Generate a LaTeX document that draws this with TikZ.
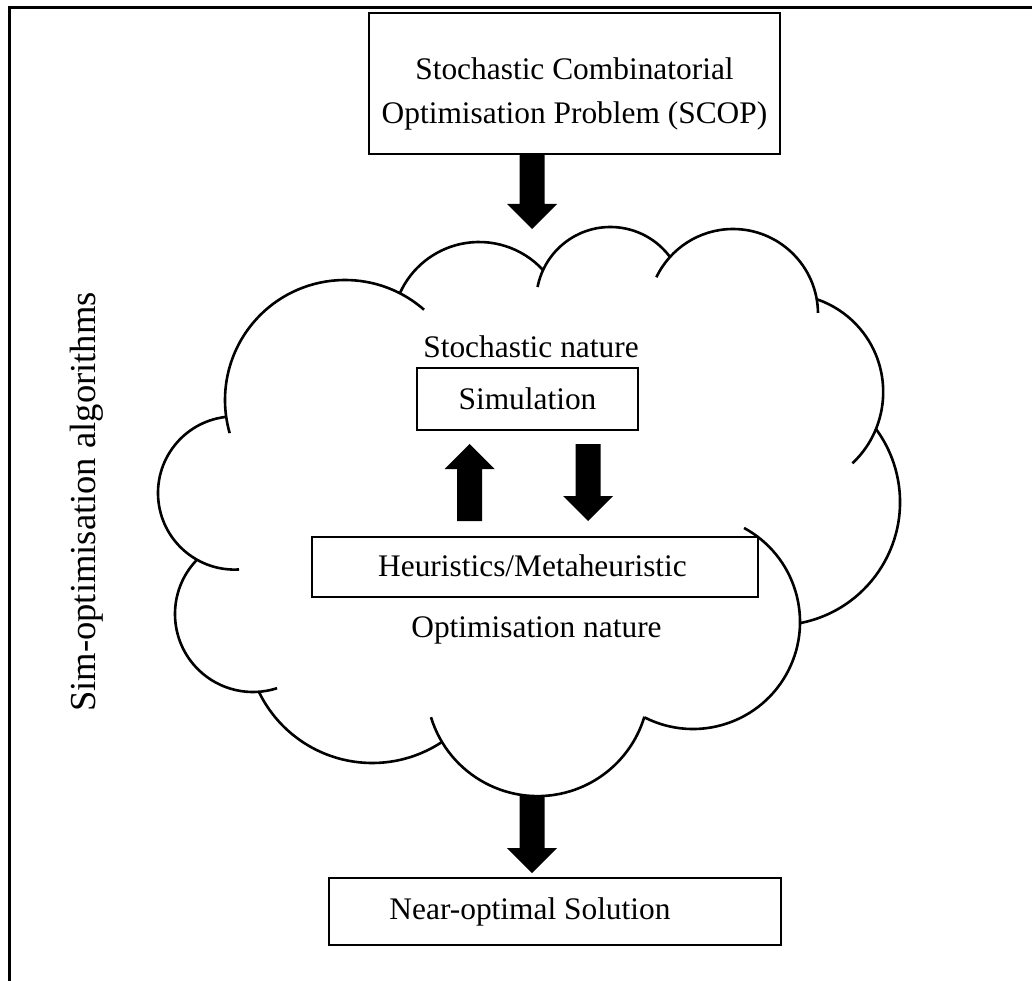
\documentclass[tikz,border=0pt]{standalone}
\usepackage{fontspec}
\setmainfont{Liberation Serif}
\usetikzlibrary{calc}
\newcommand\blkdown[2]{\fill ($(#1)+(-12.5,0)$) -- ($(#2)+(-12.5,-25)$) -- ($(#2)+(-25,-25)$) -- (#2) -- ($(#2)+(25,-25)$) -- ($(#2)+(12.5,-25)$) -- ($(#1)+(12.5,0)$) -- cycle;}
\newcommand\blkup[2]{\fill ($(#1)+(-12.5,0)$) -- ($(#2)+(-12.5,25)$) -- ($(#2)+(-25,25)$) -- (#2) -- ($(#2)+(25,25)$) -- ($(#2)+(12.5,25)$) -- ($(#1)+(12.5,0)$) -- cycle;}
\begin{document}
\begin{tikzpicture}[x=1pt,y=-1pt,
  box/.style={draw, line width=1.3pt, inner sep=0pt},
  txt/.style={anchor=base, inner sep=0pt, font=\fontsize{31.4}{37}\selectfont},
  vtxt/.style={anchor=base, inner sep=0pt, rotate=90, font=\fontsize{36.6}{40}\selectfont},
  lobe/.style={line width=2.6pt},
  frameline/.style={line width=3pt}]
\useasboundingbox (0,0) rectangle (1032,981);
% frame
\coordinate (fbl) at (9.5,981);
\coordinate (ftl) at (9.5,8);
\coordinate (ftr) at (1032,8);
\draw[frameline] (fbl) -- (ftl) -- (ftr);
% boxes
\node[box, minimum width=411pt, minimum height=141pt] (scop) at (574.5,83.5) {};
\node[box, minimum width=221pt, minimum height=62pt] (sim) at (527.5,399) {};
\node[box, minimum width=446pt, minimum height=60pt] (heur) at (535,567) {};
\node[box, minimum width=452pt, minimum height=67pt] (sol) at (555,911.5) {};
% texts
\node[txt] (scopA) at (574.5,80) {Stochastic Combinatorial};
\node[txt] (scopB) at (574.5,124) {Optimisation Problem (SCOP)};
\node[txt] (stoch) at (531,357) {Stochastic nature};
\node[txt] (simt) at (527.5,409) {Simulation};
\node[txt] (heurt) at (532.5,576) {Heuristics/Metaheuristic};
\node[txt] (optn) at (536.5,637) {Optimisation nature};
\node[txt] (solt) at (530,919) {Near-optimal Solution};
\node[vtxt] (side) at (95,502) {Sim-optimisation algorithms};
% cloud
\draw[lobe] (345,400) ++(-48.8:120) arc[start angle=-48.8, end angle=-196, radius=120];
\draw[lobe] (234.6,493) ++(262.8:76.6) arc[start angle=262.8, end angle=86.7, radius=76.6];
\draw[lobe] (253,614) ++(224:78) arc[start angle=224, end angle=72, radius=78];
\draw[lobe] (372.3,637) ++(154.1:126) arc[start angle=154.1, end angle=56.4, radius=126];
\draw[lobe] (537.6,684.6) ++(163:111.5) arc[start angle=163, end angle=16.7, radius=111.5];
\draw[lobe] (693,622) ++(116.8:107) arc[start angle=116.8, end angle=-61.5, radius=107];
\draw[lobe] (776.8,502.1) ++(79.2:123.2) arc[start angle=79.2, end angle=-36.4, radius=123.2];
\draw[lobe] (785.2,392) ++(46.7:98) arc[start angle=46.7, end angle=-71, radius=98];
\draw[lobe] (733,314) ++(-0.7:85) arc[start angle=-0.7, end angle=-154.4, radius=85];
\draw[lobe] (610.4,301.2) ++(-36.3:74.2) arc[start angle=-36.3, end angle=-169, radius=74.2];
\draw[lobe] (479.1,328.9) ++(-42.7:86.9) arc[start angle=-42.7, end angle=-155.5, radius=86.9];
% arrows
\coordinate (xA) at (532,0);
\coordinate (inTip) at (532,229);
\coordinate (outStart) at (532,795);
\coordinate (outTip) at (532,873);
\coordinate (upStart) at (469.5,521);
\coordinate (upTip) at (469.5,444);
\coordinate (dnStart) at (588,444);
\coordinate (dnTip) at (588,521);
\blkdown{scop.south -| xA}{inTip}
\blkdown{outStart}{outTip}
\blkup{upStart}{upTip}
\blkdown{dnStart}{dnTip}
\end{tikzpicture}
\end{document}
